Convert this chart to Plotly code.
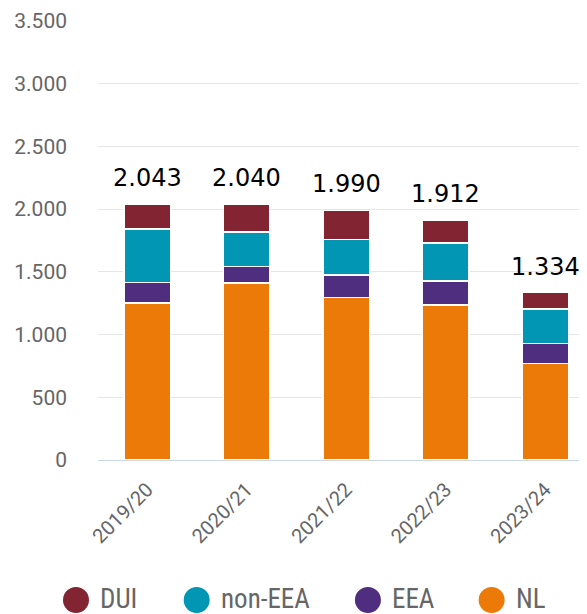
import plotly.graph_objects as go

years = ["2019/20", "2020/21", "2021/22", "2022/23", "2023/24"]
nl = [1250, 1410, 1297, 1236, 771]
eea = [165, 132, 178, 191, 159]
non_eea = [425, 276, 285, 303, 272]
dui = [203, 222, 230, 182, 132]

series = [("NL", nl, "#ec7a08"), ("EEA", eea, "#4f2d7f"),
          ("non-EEA", non_eea, "#0096b4"), ("DUI", dui, "#832433")]
legend_order = ["DUI", "non-EEA", "EEA", "NL"]
colors = {name: c for name, _, c in series}

fig = go.Figure()
for name, vals, color in series:
    fig.add_trace(go.Bar(x=years, y=vals, name=name, width=0.47,
                         marker=dict(color=color, line=dict(color="white", width=1.5)),
                         showlegend=False))

totals = [sum(v) for v in zip(nl, eea, non_eea, dui)]
for yr, t in zip(years, totals):
    fig.add_annotation(x=yr, y=t, text=f"{t:,}".replace(",", "."), showarrow=False,
                       yanchor="bottom", yshift=10,
                       font=dict(family="DejaVu Sans, Verdana", size=24, color="black"))

# custom legend with big round markers
leg_x = [-0.045, 0.2018, 0.552, 0.805]
for name, lx in zip(legend_order, leg_x):
    fig.add_shape(type="circle", xref="paper", yref="paper", xsizemode="pixel", ysizemode="pixel",
                  xanchor=lx, yanchor=-0.319, x0=-13, x1=13, y0=-13, y1=13,
                  fillcolor=colors[name], line=dict(width=0))
    fig.add_annotation(x=lx, y=-0.319, xref="paper", yref="paper", text=name, showarrow=False,
                       xanchor="left", yanchor="middle", xshift=22, yshift=1,
                       font=dict(family="Liberation Sans Narrow, Roboto Condensed, DejaVu Sans Condensed, Arial Narrow",
                                 size=27, color="#666666"))

# page body has an 8px margin, so the figure is drawn 8px smaller
fig.update_layout(
    width=579, height=606,
    margin=dict(l=90, r=0, t=13, b=154, autoexpand=False),
    plot_bgcolor="white", paper_bgcolor="white",
    barmode="stack", bargap=0.5,
    font=dict(family="Roboto, Arial", color="#666666"),
    separators=",.",
)
fig.update_xaxes(range=[-0.495, 4.42], tickangle=-45, tickfont=dict(size=20, color="#666666"),
                 showline=True, linecolor="#ccd6eb", linewidth=1, showgrid=False, ticks="",
                 automargin=False, ticklabelstandoff=9)
fig.update_yaxes(range=[0, 3500], dtick=500, tickformat=",d",
                 tickfont=dict(size=21, color="#666666"), gridcolor="#e6e6e6", gridwidth=1,
                 zeroline=False, ticklabelstandoff=30, automargin=False)

fig.write_html("out.html")
